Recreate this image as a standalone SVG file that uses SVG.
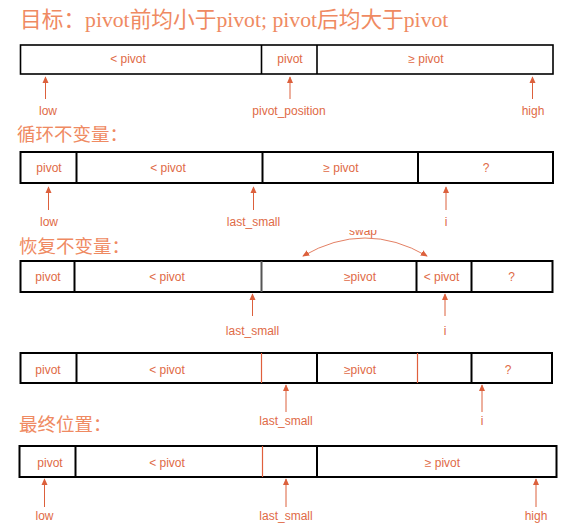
<svg xmlns="http://www.w3.org/2000/svg" width="581" height="529" viewBox="0 0 581 529">
<defs>
<marker id="ah" viewBox="0 0 8 8" refX="7" refY="4" markerWidth="7" markerHeight="7" markerUnits="userSpaceOnUse" orient="auto-start-reverse">
<path d="M0,0.5 L8,4 L0,7.5 z" fill="#dc603c"/>
</marker>
<clipPath id="swapclip"><rect x="330" y="230" width="70" height="10"/></clipPath>
<style>
.box{fill:#fff;stroke:#000;stroke-width:2}
.div{stroke:#000;stroke-width:2}
.rdiv{stroke:#e0603c;stroke-width:1.2}
.t{font-family:"Liberation Sans",Arial,sans-serif;font-size:12px;fill:#e06a46;text-anchor:middle}
.h{font-family:"Liberation Serif","Noto Sans CJK SC",serif;fill:#ef8a62}
.arr{stroke:#dc603c;stroke-width:1;fill:none;marker-end:url(#ah)}
</style>
</defs>

<text class="h" x="20" y="27" font-size="21.7">目标：pivot前均小于pivot; pivot后均大于pivot</text>
<text class="h" x="17" y="141" font-size="18.5">循环不变量：</text>
<text class="h" x="19" y="253" font-size="18.5">恢复不变量：</text>
<text class="h" x="19" y="431" font-size="18.5">最终位置：</text>

<g id="row1">
<rect class="box" x="20.5" y="45" width="532.5" height="29" style="stroke-width:1.6"/>
<line class="div" x1="261.5" y1="45" x2="261.5" y2="74" style="stroke-width:1.6"/>
<line class="div" x1="317" y1="45" x2="317" y2="74" style="stroke-width:1.6"/>
<text class="t" x="128" y="63">&lt; pivot</text>
<text class="t" x="290" y="63">pivot</text>
<text class="t" x="426" y="63">≥ pivot</text>
</g>

<g id="row2">
<rect class="box" x="20.5" y="152" width="532.5" height="31"/>
<line class="div" x1="76.5" y1="152" x2="76.5" y2="183"/>
<line class="div" x1="262.5" y1="152" x2="262.5" y2="183"/>
<line class="div" x1="418" y1="152" x2="418" y2="183"/>
<text class="t" x="49" y="172">pivot</text>
<text class="t" x="168" y="172">&lt; pivot</text>
<text class="t" x="341" y="172">≥ pivot</text>
<text class="t" x="486" y="172">?</text>
</g>

<g id="row3">
<rect class="box" x="20.5" y="261" width="532" height="31"/>
<line class="div" x1="74.5" y1="261" x2="74.5" y2="292"/>
<line class="div" x1="261.5" y1="261" x2="261.5" y2="292" style="stroke:#555"/>
<line class="div" x1="416.5" y1="261" x2="416.5" y2="292"/>
<line class="div" x1="471.5" y1="261" x2="471.5" y2="292"/>
<text class="t" x="48" y="281">pivot</text>
<text class="t" x="167" y="281">&lt; pivot</text>
<text class="t" x="360" y="281">≥pivot</text>
<text class="t" x="441.5" y="281">&lt; pivot</text>
<text class="t" x="511.5" y="281">?</text>
</g>

<g id="row4">
<rect class="box" x="20.5" y="353" width="531.5" height="30"/>
<line class="div" x1="76.5" y1="353" x2="76.5" y2="383"/>
<line class="rdiv" x1="261.5" y1="353" x2="261.5" y2="383"/>
<line class="div" x1="317" y1="353" x2="317" y2="383"/>
<line class="rdiv" x1="417.5" y1="353" x2="417.5" y2="383"/>
<line class="div" x1="471.5" y1="353" x2="471.5" y2="383"/>
<text class="t" x="48" y="374">pivot</text>
<text class="t" x="167" y="374">&lt; pivot</text>
<text class="t" x="360" y="374">≥pivot</text>
<text class="t" x="508" y="374">?</text>
</g>

<g id="row5">
<rect class="box" x="19.5" y="446" width="537" height="31"/>
<line class="div" x1="75.5" y1="446" x2="75.5" y2="477"/>
<line class="rdiv" x1="262.5" y1="446" x2="262.5" y2="477"/>
<line class="div" x1="317" y1="446" x2="317" y2="477"/>
<text class="t" x="50" y="467">pivot</text>
<text class="t" x="167" y="467">&lt; pivot</text>
<text class="t" x="442.5" y="467">≥ pivot</text>
</g>

<g id="connectors">
<line class="arr" x1="45.5" y1="99" x2="45.5" y2="77"/>
<line class="arr" x1="290" y1="99" x2="290" y2="77"/>
<line class="arr" x1="532.5" y1="99" x2="532.5" y2="77"/>
<line class="arr" x1="48.5" y1="210" x2="48.5" y2="187"/>
<line class="arr" x1="253.5" y1="210" x2="253.5" y2="187"/>
<line class="arr" x1="446" y1="210" x2="446" y2="187"/>
<line class="arr" x1="252.5" y1="316" x2="252.5" y2="294"/>
<line class="arr" x1="445" y1="316" x2="445" y2="294"/>
<line class="arr" x1="286" y1="412" x2="286" y2="385"/>
<line class="arr" x1="482" y1="412" x2="482" y2="385"/>
<line class="arr" x1="44.5" y1="507" x2="44.5" y2="479"/>
<line class="arr" x1="286" y1="507" x2="286" y2="479"/>
<line class="arr" x1="536" y1="507" x2="536" y2="479"/>
<path d="M303,256 Q365,220 427,256" fill="none" stroke="#dc603c" stroke-width="0.8" marker-start="url(#ah)" marker-end="url(#ah)"/>
</g>

<g id="labels">
<text class="t" x="48" y="115">low</text>
<text class="t" x="289" y="115">pivot_position</text>
<text class="t" x="533" y="115">high</text>
<text class="t" x="49" y="226">low</text>
<text class="t" x="253.5" y="226">last_small</text>
<text class="t" x="446" y="226">i</text>
<text class="t" x="252.5" y="335">last_small</text>
<text class="t" x="445" y="335">i</text>
<text class="t" x="286" y="425">last_small</text>
<text class="t" x="482" y="425">i</text>
<text class="t" x="44.5" y="520">low</text>
<text class="t" x="286" y="520">last_small</text>
<text class="t" x="536" y="520">high</text>
<text class="t" x="363" y="235" clip-path="url(#swapclip)">swap</text>
</g>
</svg>
